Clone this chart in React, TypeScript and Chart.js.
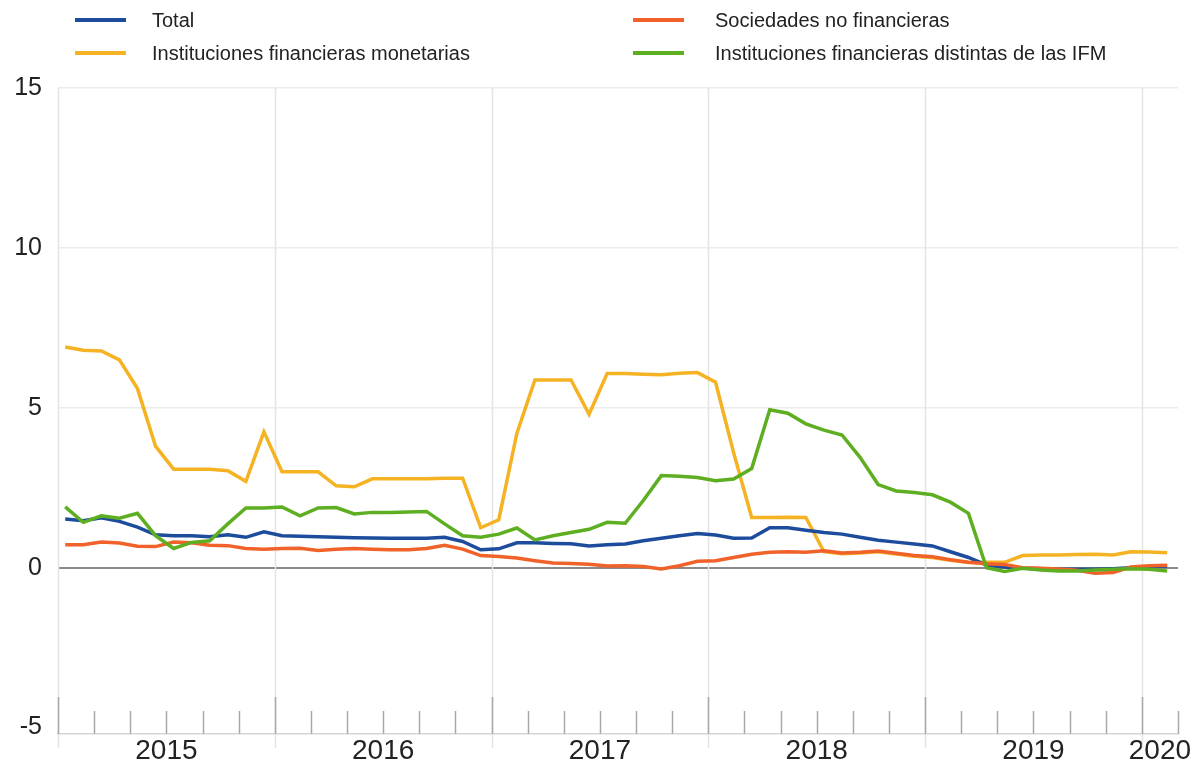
import React, { useEffect, useRef } from "react";
import { Chart, registerables } from "chart.js";

Chart.register(...registerables);

// Months from Jan 2015 to Feb 2020 (62 monthly observations)
const MONTH_COUNT = 62;
const YEAR_LABELS = ["2015", "2016", "2017", "2018", "2019", "2020"];
const YEAR_LABEL_POS = [6, 18, 30, 42, 54, 61];
const YEAR_BOUNDARIES = [0, 12, 24, 36, 48, 60];
const Y_TICKS = [-5, 0, 5, 10, 15];

const total = [
  1.52, 1.47, 1.56, 1.45, 1.27, 1.03, 1.0, 1.0, 0.97, 1.03, 0.95, 1.12,
  1.0, 0.98, 0.97, 0.95, 0.94, 0.93, 0.92, 0.92, 0.92, 0.95, 0.82, 0.56,
  0.59, 0.78, 0.78, 0.76, 0.75, 0.68, 0.72, 0.74, 0.84, 0.92, 1.0, 1.07,
  1.02, 0.92, 0.93, 1.25, 1.25, 1.17, 1.1, 1.05, 0.95, 0.86, 0.8, 0.74,
  0.68, 0.5, 0.32, 0.08, 0.02, -0.02, -0.03, -0.05, -0.05, -0.05, -0.03, 0.0,
  0.03, 0.05,
];

const sociedades = [
  0.72, 0.72, 0.8, 0.77, 0.67, 0.66, 0.8, 0.78, 0.7, 0.69, 0.6, 0.58,
  0.6, 0.61, 0.54, 0.58, 0.6, 0.58, 0.56, 0.56, 0.6, 0.7, 0.58, 0.38,
  0.35, 0.3, 0.22, 0.15, 0.13, 0.11, 0.05, 0.06, 0.04, -0.04, 0.06, 0.2,
  0.22, 0.32, 0.42, 0.48, 0.5, 0.48, 0.53, 0.46, 0.48, 0.52, 0.45, 0.38,
  0.34, 0.25, 0.17, 0.12, 0.1, 0.0, -0.02, -0.04, -0.08, -0.17, -0.15, 0.02,
  0.06, 0.08,
];

const ifm = [
  6.9, 6.8, 6.78, 6.5, 5.6, 3.8, 3.08, 3.08, 3.08, 3.03, 2.7, 4.25,
  3.0, 3.0, 3.0, 2.56, 2.53, 2.78, 2.78, 2.78, 2.78, 2.8, 2.8, 1.25,
  1.5, 4.2, 5.87, 5.87, 5.87, 4.8, 6.07, 6.07, 6.05, 6.03, 6.08, 6.1,
  5.8, 3.6, 1.57, 1.57, 1.58, 1.57, 0.5, 0.44, 0.46, 0.5, 0.43, 0.36,
  0.32, 0.23, 0.16, 0.17, 0.17, 0.38, 0.4, 0.4, 0.41, 0.42, 0.4, 0.5,
  0.49, 0.47,
];

const noIfm = [
  1.9, 1.42, 1.62, 1.55, 1.7, 1.0, 0.6, 0.79, 0.84, 1.37, 1.87, 1.87,
  1.9, 1.62, 1.87, 1.88, 1.68, 1.73, 1.73, 1.74, 1.76, 1.37, 1.0, 0.95,
  1.05, 1.24, 0.87, 1.0, 1.1, 1.2, 1.42, 1.39, 2.1, 2.88, 2.86, 2.82,
  2.72, 2.77, 3.1, 4.94, 4.83, 4.5, 4.3, 4.15, 3.45, 2.6, 2.4, 2.35,
  2.28, 2.05, 1.7, 0.0, -0.12, -0.02, -0.07, -0.1, -0.1, -0.07, -0.05, -0.03,
  -0.05, -0.1,
];

const SERIES = [
  { label: "Total", data: total, color: "#1d4c9c" },
  { label: "Sociedades no financieras", data: sociedades, color: "#f0622a" },
  { label: "Instituciones financieras monetarias", data: ifm, color: "#f5b324" },
  { label: "Instituciones financieras distintas de las IFM", data: noIfm, color: "#5eae22" },
];

// drawing order: green on top, then orange, blue, yellow at bottom
const DRAW_ORDER = [3, 1, 0, 2];

const FONT = "'Liberation Sans', Arial, Helvetica, sans-serif";

const toPoints = (arr: number[]) => arr.map((v, i) => ({ x: i + 0.4, y: v }));

const yearGridPlugin = {
  id: "yearGrid",
  beforeDatasetsDraw(chart: any) {
    const { ctx, chartArea, scales } = chart;
    const x = scales.x;
    ctx.save();
    ctx.strokeStyle = "#e4e4e4";
    ctx.lineWidth = 1.5;
    for (const m of YEAR_BOUNDARIES) {
      const px = Math.round(x.getPixelForValue(m)) + 0.5;
      ctx.beginPath();
      ctx.moveTo(px, chartArea.top);
      ctx.lineTo(px, chartArea.bottom + 14);
      ctx.stroke();
    }
    ctx.strokeStyle = "#a8a8a8";
    ctx.lineWidth = 1.5;
    for (let m = 0; m <= MONTH_COUNT; m += 2) {
      const px = Math.round(x.getPixelForValue(m)) + 0.5;
      const len = m % 12 === 0 ? 37 : 23;
      ctx.beginPath();
      ctx.moveTo(px, chartArea.bottom - len);
      ctx.lineTo(px, chartArea.bottom);
      ctx.stroke();
    }
    ctx.restore();
  },
};

export default function App() {
  const canvasRef = useRef<HTMLCanvasElement | null>(null);

  useEffect(() => {
    document.body.style.margin = "0";
    const canvas = canvasRef.current;
    if (!canvas) return;
    const datasets = DRAW_ORDER.map((idx) => {
      const s = SERIES[idx];
      return {
        label: s.label,
        data: toPoints(s.data),
        borderColor: s.color,
        backgroundColor: s.color,
        borderWidth: 3.5,
        pointRadius: 0,
        tension: 0,
        fill: false,
      };
    });
    const chart = new Chart(canvas, {
      type: "line",
      data: { datasets },
      plugins: [yearGridPlugin],
      options: {
        animation: false,
        responsive: false,
        devicePixelRatio: 1,
        layout: { padding: { top: 88, left: 13, right: 23, bottom: 0 } },
        plugins: { legend: { display: false }, tooltip: { enabled: false } },
        scales: {
          x: {
            type: "linear",
            min: 0,
            max: MONTH_COUNT,
            afterBuildTicks: (axis: any) => {
              axis.ticks = YEAR_LABEL_POS.map((v) => ({ value: v }));
            },
            afterFit: (axis: any) => {
              axis.height = 28;
              axis.paddingLeft = 0;
              axis.paddingRight = 0;
            },
            grid: { display: false, drawTicks: false },
            border: { display: true, color: "#d6d6d6", width: 1.5 },
            ticks: {
              autoSkip: false,
              maxRotation: 0,
              padding: 0,
              color: "#222222",
              font: { family: FONT, size: 28 },
              callback: (_v: any, i: number) => YEAR_LABELS[i],
            },
          },
          y: {
            type: "linear",
            min: -5.2,
            max: 15,
            afterBuildTicks: (axis: any) => {
              axis.ticks = Y_TICKS.map((v) => ({ value: v }));
            },
            afterFit: (axis: any) => {
              axis.width = 45;
              axis.paddingTop = 0;
              axis.paddingBottom = 0;
            },
            grid: {
              drawTicks: false,
              color: (c: any) =>
                c.tick && c.tick.value === 0
                  ? "#8a8a8a"
                  : c.tick && c.tick.value === -5
                  ? "rgba(0,0,0,0)"
                  : "#ececec",
              lineWidth: (c: any) => (c.tick && c.tick.value === 0 ? 2 : 1.5),
            },
            border: { display: false },
            ticks: {
              padding: 16,
              color: "#222222",
              font: { family: FONT, size: 25 },
              callback: (v: any) => String(v),
            },
          },
        },
      },
    });
    return () => chart.destroy();
  }, []);

  const legendItems = [
    { s: SERIES[0], swatchX: 75, textX: 152, y: 20 },
    { s: SERIES[1], swatchX: 633, textX: 715, y: 20 },
    { s: SERIES[2], swatchX: 75, textX: 152, y: 53 },
    { s: SERIES[3], swatchX: 633, textX: 715, y: 53 },
  ];

  return (
    <div style={{ position: "fixed", left: 0, top: 0, width: 1201, height: 762, background: "#ffffff" }}>
      <canvas ref={canvasRef} width={1201} height={762} style={{ position: "absolute", left: 0, top: 0 }} />
      {legendItems.map((it) => (
        <React.Fragment key={it.s.label}>
          <div
            style={{
              position: "absolute",
              left: it.swatchX,
              top: it.y - 2,
              width: 51,
              height: 4,
              background: it.s.color,
            }}
          />
          <div
            style={{
              position: "absolute",
              left: it.textX,
              top: it.y - 12,
              height: 24,
              lineHeight: "24px",
              fontFamily: FONT,
              fontSize: 20,
              color: "#222222",
              whiteSpace: "nowrap",
            }}
          >
            {it.s.label}
          </div>
        </React.Fragment>
      ))}
    </div>
  );
}
